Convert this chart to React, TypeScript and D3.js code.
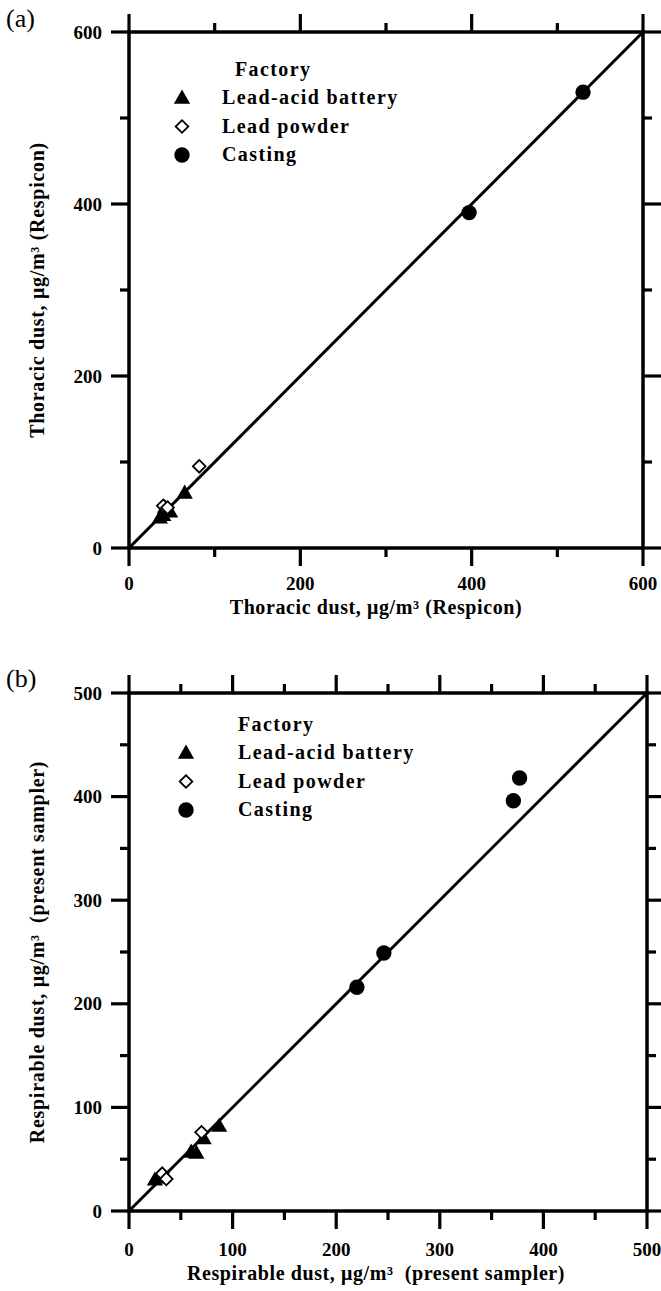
import React from "react";
import * as d3 from "d3";

// ---------- data ----------
const factories = ["Lead-acid battery", "Lead powder", "Casting"];

// Panel (a): thoracic dust (Respicon vs Respicon)
const aLeadAcid: [number, number][] = [[65, 64], [42, 47], [48, 42], [36, 35], [40, 38]];
const aLeadPowder: [number, number][] = [[82, 95], [40, 49], [45, 47]];
const aCasting: [number, number][] = [[397, 390], [530, 530]];
const aTicksMajor = [0, 200, 400, 600];
const aTicksMinor = [100, 300, 500];

// Panel (b): respirable dust (present sampler)
const bLeadAcid: [number, number][] = [[87, 82], [72, 70], [65, 56], [60, 57], [25, 30], [30, 32]];
const bLeadPowder: [number, number][] = [[70, 76], [32, 36], [36, 31]];
const bCasting: [number, number][] = [[220, 216], [246, 249], [371, 396], [377, 418]];
const bTicksMajor = [0, 100, 200, 300, 400, 500];
const bTicksMinor = [50, 150, 250, 350, 450];

const FONT = "'Liberation Serif', 'Times New Roman', serif";

const triPath = d3.symbol().type(d3.symbolTriangle).size(115)()!;
const sqPath = d3.symbol().type(d3.symbolSquare).size(80)()!;
const circPath = d3.symbol().type(d3.symbolCircle).size(185)()!;

function Marker({ kind, x, y }: { kind: number; x: number; y: number }) {
  if (kind === 0)
    return <path d={triPath} transform={`translate(${x},${y + 1})`} fill="#000" />;
  if (kind === 1)
    return (
      <path
        d={sqPath}
        transform={`translate(${x},${y}) rotate(45)`}
        fill="#fff"
        stroke="#000"
        strokeWidth={1.8}
      />
    );
  return <path d={circPath} transform={`translate(${x},${y})`} fill="#000" />;
}

interface PanelProps {
  left: number;
  right: number;
  top: number;
  bottom: number;
  max: number;
  major: number[];
  minor: number[];
  series: [number, number][][];
  xTitle: string;
  yTitle: string;
  tag: string;
  tagY: number;
  legendX: number;
  legendLabelX: number;
  legendTitleX: number;
  legendY: number;
  labelDy: number;
}

function Panel(p: PanelProps) {
  const x = d3.scaleLinear().domain([0, p.max]).range([p.left, p.right]);
  const y = d3.scaleLinear().domain([0, p.max]).range([p.bottom, p.top]);
  const MJ = 18;
  const MN = 9;
  const sw = 3.5;
  const tickEls: React.ReactNode[] = [];
  const addTicks = (vals: number[], len: number, key: string) => {
    vals.forEach((v) => {
      tickEls.push(<line key={key + "b" + v} x1={x(v)} x2={x(v)} y1={p.bottom} y2={p.bottom + len} />);
      tickEls.push(<line key={key + "t" + v} x1={x(v)} x2={x(v)} y1={p.top} y2={p.top - len} />);
      tickEls.push(<line key={key + "l" + v} x1={p.left} x2={p.left - len} y1={y(v)} y2={y(v)} />);
      tickEls.push(<line key={key + "r" + v} x1={p.right} x2={p.right + len} y1={y(v)} y2={y(v)} />);
    });
  };
  addTicks(p.major, MJ, "M");
  addTicks(p.minor, MN, "m");
  const cy = (p.top + p.bottom) / 2;
  return (
    <g fontFamily={FONT}>
      <text x={6} y={p.tagY} fontSize={26}>
        {p.tag}
      </text>
      <line x1={x(0)} y1={y(0)} x2={x(p.max)} y2={y(p.max)} stroke="#000" strokeWidth={3} />
      <rect
        x={p.left}
        y={p.top}
        width={p.right - p.left}
        height={p.bottom - p.top}
        fill="none"
        stroke="#000"
        strokeWidth={sw}
      />
      <g stroke="#000" strokeWidth={3.2}>
        {tickEls}
      </g>
      <g fontWeight="bold" fontSize={19}>
        {p.major.map((v) => (
          <text key={"xl" + v} x={x(v)} y={p.bottom + p.labelDy} textAnchor="middle">
            {v}
          </text>
        ))}
        {p.major.map((v) => (
          <text key={"yl" + v} x={102} y={y(v) + 6.5} textAnchor="end">
            {v}
          </text>
        ))}
      </g>
      <text
        x={376}
        y={p.bottom + p.labelDy + 24}
        textAnchor="middle"
        fontWeight="bold"
        fontSize={20}
        letterSpacing={0.6}
        style={{ whiteSpace: "pre" }}
      >
        {p.xTitle}
      </text>
      <text
        transform={`translate(44,${cy}) rotate(-90)`}
        textAnchor="middle"
        fontWeight="bold"
        fontSize={20}
        letterSpacing={0.7}
        style={{ whiteSpace: "pre" }}
      >
        {p.yTitle}
      </text>
      {p.series.map((s, k) =>
        s.map((d, i) => <Marker key={k + "-" + i} kind={k} x={x(d[0])} y={y(d[1])} />)
      )}
      <g fontWeight="bold" fontSize={20} letterSpacing={1.4}>
        <text x={p.legendTitleX} y={p.legendY}>
          Factory
        </text>
        {factories.map((f, i) => (
          <g key={f}>
            <Marker kind={i} x={p.legendX} y={p.legendY + 22 + i * 28.5} />
            <text x={p.legendLabelX} y={p.legendY + 28 + i * 28.5}>
              {f}
            </text>
          </g>
        ))}
      </g>
    </g>
  );
}

export default function App() {
  return (
    <svg
      width={661}
      height={1291}
      style={{ position: "absolute", left: 0, top: 0, background: "#fff" }}
    >
      <rect x={0} y={0} width={661} height={1291} fill="#fff" />
      <Panel
        left={129}
        right={643}
        top={32}
        bottom={548}
        max={600}
        major={aTicksMajor}
        minor={aTicksMinor}
        series={[aLeadAcid, aLeadPowder, aCasting]}
        xTitle={"Thoracic dust, \u03bcg/m\u00b3 (Respicon)"}
        yTitle={"Thoracic dust, \u03bcg/m\u00b3 (Respicon)"}
        tag="(a)"
        tagY={27}
        legendX={182}
        legendLabelX={222}
        legendTitleX={235}
        legendY={76}
        labelDy={42}
      />
      <Panel
        left={129}
        right={647}
        top={693}
        bottom={1211}
        max={500}
        major={bTicksMajor}
        minor={bTicksMinor}
        series={[bLeadAcid, bLeadPowder, bCasting]}
        xTitle={"Respirable dust, \u03bcg/m\u00b3  (present sampler)"}
        yTitle={"Respirable dust, \u03bcg/m\u00b3  (present sampler)"}
        tag="(b)"
        tagY={687}
        legendX={186}
        legendLabelX={238}
        legendTitleX={238}
        legendY={731}
        labelDy={45}
      />
    </svg>
  );
}
